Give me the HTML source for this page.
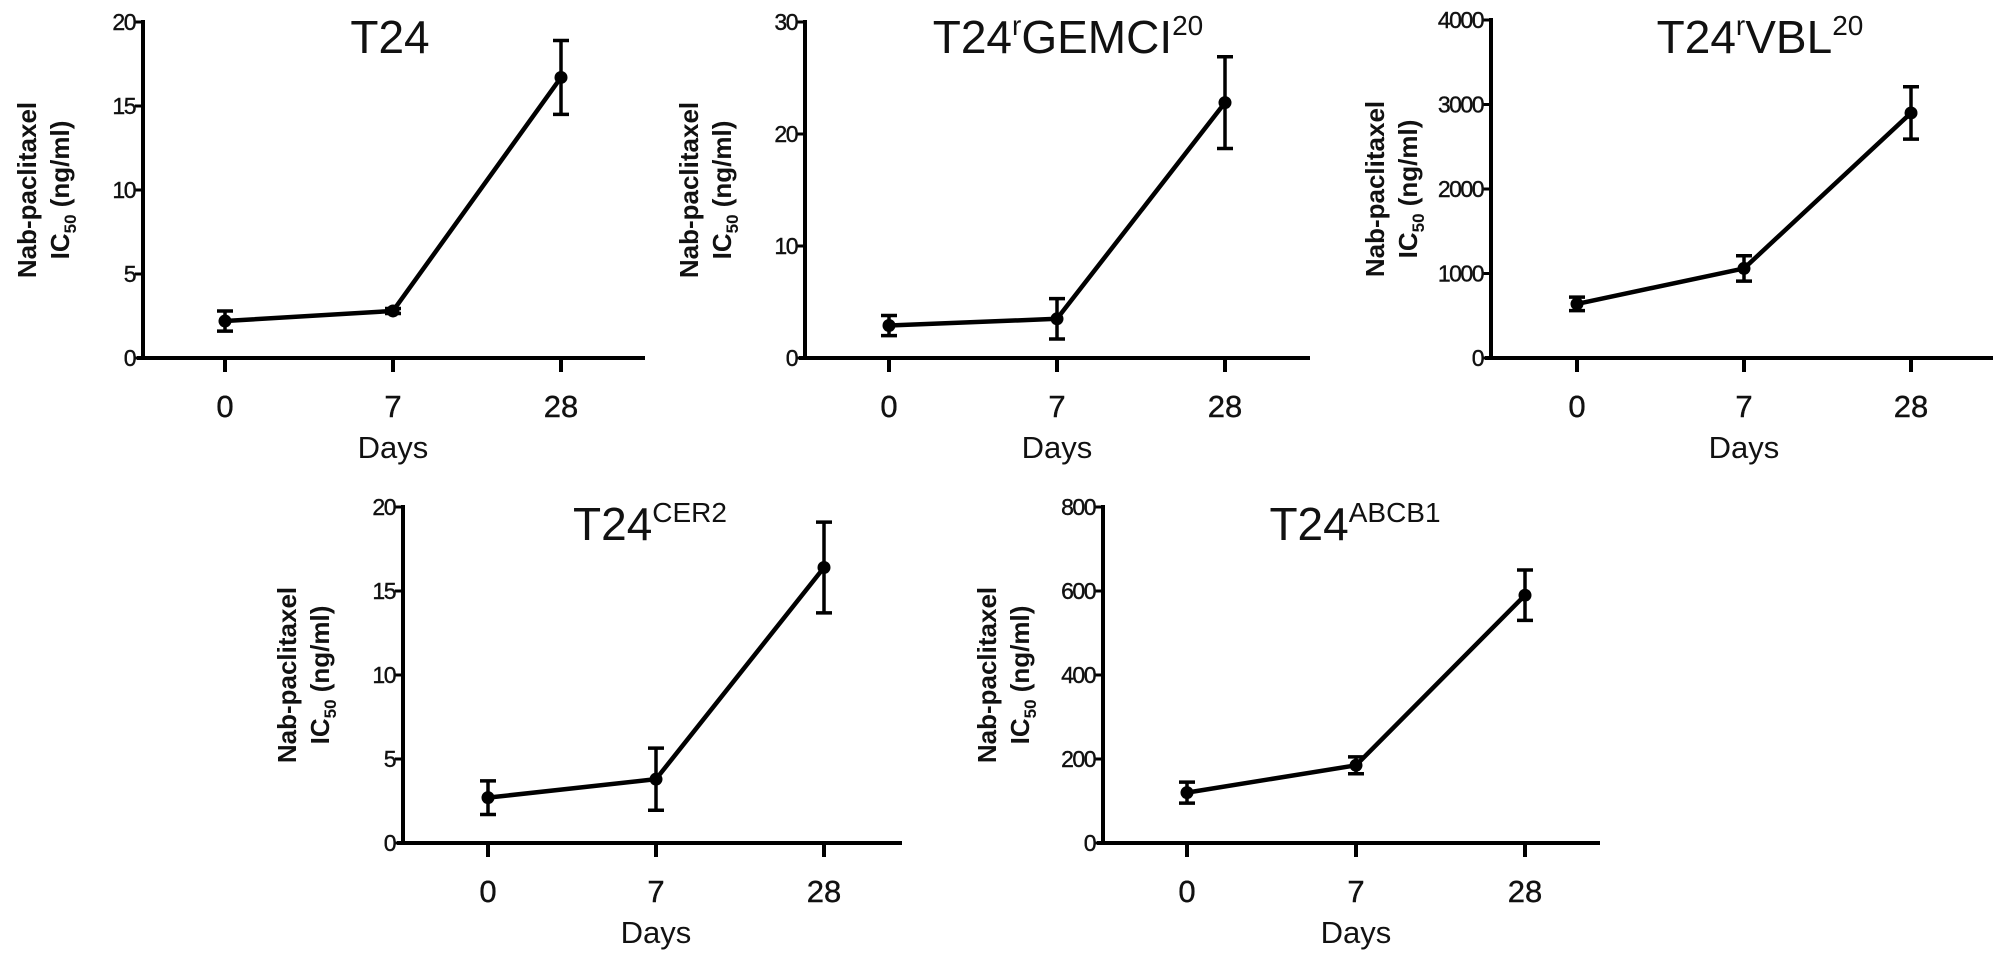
<!DOCTYPE html>
<html><head><meta charset="utf-8">
<style>
html,body{margin:0;padding:0;background:#fff;}
svg{display:block;}
text{font-family:"Liberation Sans",Arial,sans-serif;fill:#111;}
</style></head>
<body>
<svg id="fig" width="2008" height="965" viewBox="0 0 2008 965" xmlns="http://www.w3.org/2000/svg"></svg>
<script>
// ---- data ----
const days = ["0","7","28"];
const t24Values = [2.2, 2.8, 16.7];
const t24Err = [0.6, 0.15, 2.2];
const t24Ticks = [0,5,10,15,20];
const gemValues = [2.9, 3.5, 22.8];
const gemErr = [0.9, 1.8, 4.1];
const gemTicks = [0,10,20,30];
const vblValues = [640, 1060, 2900];
const vblErr = [80, 150, 310];
const vblTicks = [0,1000,2000,3000,4000];
const cerValues = [2.7, 3.8, 16.4];
const cerErr = [1.0, 1.85, 2.7];
const cerTicks = [0,5,10,15,20];
const abcValues = [120, 185, 590];
const abcErr = [25, 20, 60];
const abcTicks = [0,200,400,600,800];

const NS = "http://www.w3.org/2000/svg";
const fig = document.getElementById('fig');
function mk(tag, attrs, parent){
  const e = document.createElementNS(NS, tag);
  for (const k in attrs) e.setAttribute(k, attrs[k]);
  (parent||fig).appendChild(e);
  return e;
}

function chart(cfg){
  const g = mk('g', {});
  
  
  const ymax = cfg.ticks[cfg.ticks.length-1];
  const ys = v => cfg.y0 - (v/ymax)*(cfg.y0-cfg.yTop);
  const xs = i => cfg.xTicks0 + i*cfg.xStep;
  const ya = mk('line', {x1:cfg.ax, y1:cfg.yTop-2, x2:cfg.ax, y2:cfg.y0, stroke:'#000','stroke-width':4}, g);
  
  
  const xa = mk('line', {x1:cfg.ax-6, y1:cfg.y0, x2:cfg.axEnd, y2:cfg.y0, stroke:'#000','stroke-width':4}, g);
  
  
  cfg.ticks.forEach(t=>{
    const y = ys(t);
    mk('line', {x1:cfg.ax-8, y1:y, x2:cfg.ax, y2:y, stroke:'#000','stroke-width':3}, g);
    const tx = mk('text', {x:cfg.ax-8, y:y+8, 'text-anchor':'end','font-size':23,'letter-spacing':-1.5,'stroke':'#111','stroke-width':0.4}, g);
    tx.textContent = t;
    
    
  });
  days.forEach((d,i)=>{
    const x = xs(i);
    mk('line', {x1:x, y1:cfg.y0, x2:x, y2:cfg.y0+14, stroke:'#000','stroke-width':4}, g);
    const tx = mk('text', {x:x, y:cfg.y0+59, 'text-anchor':'middle','font-size':31,'stroke':'#111','stroke-width':0.4}, g);
    tx.textContent = d;
    
    
  });
  const xt = mk('text', {x:xs(1), y:cfg.y0+100, 'text-anchor':'middle','font-size':31}, g);
  xt.textContent = 'Days';
  
  
  const cy = (cfg.y0+cfg.yTop)/2;
  const yt = mk('text', {transform:`translate(${cfg.ax-107},${cy}) rotate(-90)`, 'text-anchor':'middle','font-size':26,'font-weight':'bold'}, g);
  
  
  const s1 = mk('tspan', {x:0, y:0}, yt); s1.textContent = 'Nab-paclitaxel';
  const s2 = mk('tspan', {x:0, dy:33}, yt); s2.textContent = 'IC';
  const s3 = mk('tspan', {dy:7, 'font-size':17}, yt); s3.textContent = '50';
  const s4 = mk('tspan', {dy:-7}, yt); s4.textContent = ' (ng/ml)';
  const tt = mk('text', {x:cfg.titleX, y:cfg.titleY, 'text-anchor':'middle','font-size':46}, g);
  
  
  cfg.title.forEach(p=>{
    const ts = mk('tspan', p.sup ? {dy:-18,'font-size':28} : (p.after ? {dy:18} : {}), tt);
    ts.textContent = p.t;
  });
  const pts = cfg.values.map((v,i)=>xs(i)+','+ys(v)).join(' ');
  const pl = mk('polyline', {points:pts, fill:'none', stroke:'#000','stroke-width':4.5,'stroke-linejoin':'round'}, g);
  
  
  cfg.values.forEach((v,i)=>{
    const x = xs(i), e = cfg.err[i];
    const hi = ys(v+e), lo = ys(v-e);
    const eb = mk('path', {d:`M${x},${hi}V${lo}M${x-8},${hi}H${x+8}M${x-8},${lo}H${x+8}`, stroke:'#000','stroke-width':3.5, fill:'none'}, g);
    
    
    const c = mk('circle', {cx:x, cy:ys(v), r:6.5, fill:'#000'}, g);
    
    
  });
}

chart({name:'chart-t24', ax:143, axEnd:645, yTop:22, y0:358, xTicks0:225, xStep:168,
  ticks:t24Ticks, values:t24Values, err:t24Err, titleX:390, titleY:53,
  title:[{t:'T24'}]});
chart({name:'chart-t24-gemci20', ax:805, axEnd:1310, yTop:22, y0:358, xTicks0:889, xStep:168,
  ticks:gemTicks, values:gemValues, err:gemErr, titleX:1068, titleY:53,
  title:[{t:'T24'},{t:'r',sup:true},{t:'GEMCI',after:true},{t:'20',sup:true}]});
chart({name:'chart-t24-vbl20', ax:1491, axEnd:1993, yTop:20, y0:358, xTicks0:1577, xStep:167,
  ticks:vblTicks, values:vblValues, err:vblErr, titleX:1760, titleY:53,
  title:[{t:'T24'},{t:'r',sup:true},{t:'VBL',after:true},{t:'20',sup:true}]});
chart({name:'chart-t24-cer2', ax:403, axEnd:902, yTop:507, y0:843, xTicks0:488, xStep:168,
  ticks:cerTicks, values:cerValues, err:cerErr, titleX:650, titleY:540,
  title:[{t:'T24'},{t:'CER2',sup:true}]});
chart({name:'chart-t24-abcb1', ax:1103, axEnd:1600, yTop:507, y0:843, xTicks0:1187, xStep:169,
  ticks:abcTicks, values:abcValues, err:abcErr, titleX:1355, titleY:540,
  title:[{t:'T24'},{t:'ABCB1',sup:true}]});
</script>
</body></html>
